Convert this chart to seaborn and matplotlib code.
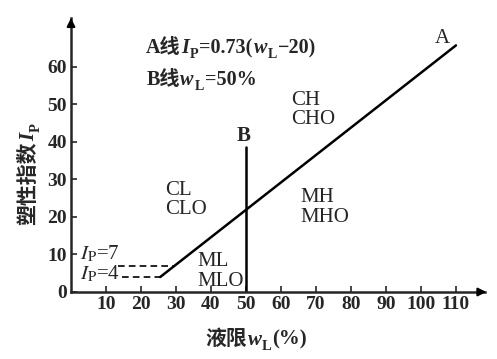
import matplotlib
matplotlib.use("Agg")
import matplotlib.pyplot as plt
import seaborn as sns
import pandas as pd

sns.set_theme(style="ticks")
plt.rcParams['font.family'] = ['Liberation Serif', 'Noto Sans CJK SC', 'DejaVu Sans']
plt.rcParams['mathtext.fontset'] = 'stix'

# Datos de la carta de plasticidad
a_wl = [25.5, 110.0]
a_ip = [4.0, 65.7]
b_wl = [50.0, 50.0]
b_ip = [0.0, 38.5]
ip7_wl = [13.5, 29.6]
ip7_ip = [7.0, 7.0]
ip4_wl = [14.6, 25.5]
ip4_ip = [4.0, 4.0]

x_ticks = [10, 20, 30, 40, 50, 60, 70, 80, 90, 100, 110]
y_ticks = [0, 10, 20, 30, 40, 50, 60]

zonas = ["CH\nCHO", "CL\nCLO", "ML\nMLO", "MH\nMHO"]
zona_x = [63, 27, 36, 65.5]
zona_y = [48.5, 24.5, 5.5, 22.5]

fig = plt.figure(figsize=(4.97, 3.59), dpi=100)
ax = fig.add_axes([71 / 497, 67 / 359, 414 / 497, 274 / 359])

linea_a = pd.DataFrame({"wl": a_wl, "ip": a_ip})
linea_b = pd.DataFrame({"wl": b_wl, "ip": b_ip})
sns.lineplot(data=linea_a, x="wl", y="ip", ax=ax, color="black", lw=1.8,
             sort=False, estimator=None)
sns.lineplot(data=linea_b, x="wl", y="ip", ax=ax, color="black", lw=1.8,
             sort=False, estimator=None)
sns.lineplot(x=ip7_wl, y=ip7_ip, ax=ax, color="black", lw=1.2,
             linestyle=(0, (4, 2.5)), estimator=None)
sns.lineplot(x=ip4_wl, y=ip4_ip, ax=ax, color="black", lw=1.2,
             linestyle=(0, (4, 2.5)), estimator=None)
ax.set_xlabel("")
ax.set_ylabel("")

ax.set_xlim(0, 118.3)
ax.set_ylim(0, 73)
ax.set_xticks(x_ticks)
ax.set_yticks(y_ticks)
ax.tick_params(direction="in", length=4, width=1.2, labelsize=14, pad=3)
for lab in ax.get_xticklabels() + ax.get_yticklabels():
    lab.set_fontweight("bold")
sns.despine(ax=ax)
for s in ["left", "bottom"]:
    ax.spines[s].set_linewidth(1.8)

# flechas de los ejes
ax.annotate("", xy=(1.01, 0), xytext=(0.98, 0), xycoords="axes fraction",
            arrowprops=dict(arrowstyle="-|>", color="black", lw=1.5, mutation_scale=12))
ax.annotate("", xy=(0, 1.01), xytext=(0, 0.98), xycoords="axes fraction",
            arrowprops=dict(arrowstyle="-|>", color="black", lw=1.5, mutation_scale=12))

BAJA = 5  # desplazamiento del subíndice, en puntos


def texto_mixto(x, y, partes, coords, fs=15, rot=0):
    # encadena trozos: (texto, cursiva, subindice)
    prev = None
    prev_sub = False
    for txt, ital, sub in partes:
        size = fs * 0.7 if sub else fs
        estilo = "italic" if ital else "normal"
        if prev is None:
            if rot == 0:
                prev = ax.text(x, y, txt, transform=coords, fontsize=size,
                               fontweight="bold", fontstyle=estilo,
                               va="center", ha="left", clip_on=False)
            else:
                prev = ax.text(x, y, txt, transform=coords, fontsize=size,
                               fontweight="bold", fontstyle=estilo, rotation=90,
                               va="bottom", ha="center", clip_on=False)
            prev_sub = sub
            continue
        d = (-BAJA if sub else 0) + (BAJA if prev_sub else 0)
        if rot == 0:
            prev = ax.annotate(txt, xy=(1, 0.5), xycoords=prev, xytext=(0.5, d),
                               textcoords="offset points", fontsize=size,
                               fontweight="bold", fontstyle=estilo,
                               va="center", ha="left", annotation_clip=False)
        else:
            prev = ax.annotate(txt, xy=(0.5, 1), xycoords=prev, xytext=(-d, 0.5),
                               textcoords="offset points", fontsize=size,
                               fontweight="bold", fontstyle=estilo, rotation=90,
                               va="bottom", ha="center", annotation_clip=False)
        prev_sub = sub
    return prev


texto_mixto(21.5, 65, [("A线", False, False), ("I", True, False), ("P", False, True),
                       ("=0.73(", False, False), ("w", True, False), ("L", False, True),
                       ("−20)", False, False)], ax.transData, fs=14.5)
texto_mixto(21.5, 56.5, [("B线", False, False), ("w", True, False), ("L", False, True),
                         ("=50%", False, False)], ax.transData, fs=14.5)
texto_mixto(0.324, -0.175, [("液限", False, False), ("w", True, False), ("L", False, True),
                            ("(%)", False, False)], ax.transAxes)
texto_mixto(-0.10, 0.245, [("塑性指数", False, False), ("I", True, False),
                           ("P", False, True)], ax.transAxes, rot=90)

fs = 15
ax.text(106, 67.5, "A", fontsize=fs, va="center", ha="center")
ax.text(49.3, 41.5, "B", fontsize=fs, fontweight="bold", va="center", ha="center")
for t, x, y in zip(zonas, zona_x, zona_y):
    ax.text(x, y, t, fontsize=fs, va="center", ha="left", linespacing=1.05)
ax.text(2.5, 10.2, r"$\mathit{I}_{\mathrm{P}}$=7", fontsize=fs, va="center", clip_on=False)
ax.text(2.5, 4.8, r"$\mathit{I}_{\mathrm{P}}$=4", fontsize=fs, va="center", clip_on=False)

fig.savefig("out.png", dpi=100)
